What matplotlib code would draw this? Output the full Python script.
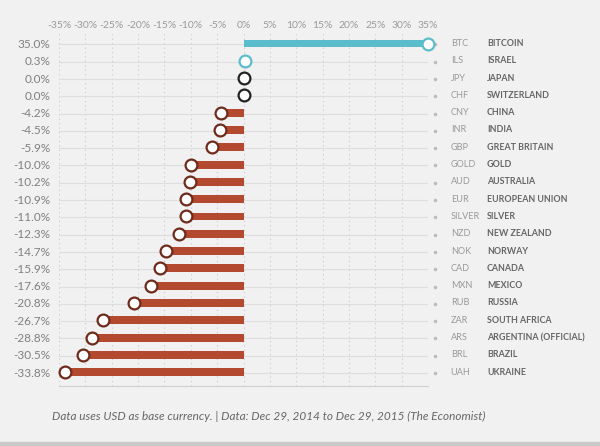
import matplotlib
matplotlib.use("Agg")
import matplotlib.pyplot as plt

# data: change vs USD, Dec 29 2014 -> Dec 29 2015
codes = ["BTC", "ILS", "JPY", "CHF", "CNY", "INR", "GBP", "GOLD", "AUD", "EUR",
         "SILVER", "NZD", "NOK", "CAD", "MXN", "RUB", "ZAR", "ARS", "BRL", "UAH"]
names = ["BITCOIN", "ISRAEL", "JAPAN", "SWITZERLAND", "CHINA", "INDIA", "GREAT BRITAIN",
         "GOLD", "AUSTRALIA", "EUROPEAN UNION", "SILVER", "NEW ZEALAND", "NORWAY",
         "CANADA", "MEXICO", "RUSSIA", "SOUTH AFRICA", "ARGENTINA (OFFICIAL)", "BRAZIL", "UKRAINE"]
changes = [35.0, 0.3, 0.0, 0.0, -4.2, -4.5, -5.9, -10.0, -10.2, -10.9,
           -11.0, -12.3, -14.7, -15.9, -17.6, -20.8, -26.7, -28.8, -30.5, -33.8]
ticks = [-35, -30, -25, -20, -15, -10, -5, 0, 5, 10, 15, 20, 25, 30, 35]

bg = "#f1f1f1"
red = "#b34a30"
teal = "#5bbdcb"
grey = "#9a9a9a"

fig = plt.figure(figsize=(6, 4.46), dpi=100, facecolor=bg)
ax = fig.add_axes([59/600, 1-386/446, 369/600, 352/446])
ax.set_facecolor(bg)

n = len(codes)
ys = list(range(n))

# grid
for t in ticks:
    ax.axvline(t, color="#c8c8c8", lw=0.8, ls=(0, (1, 3)), zorder=0)
for y in ys:
    ax.axhline(y + 0.05, color="#dedede", lw=0.8, zorder=0.5)
    ax.plot([36.3], [y + 0.05], marker="o", ms=1.5, color="#bbbbbb", clip_on=False)

for y, v in zip(ys, changes):
    if v > 1:
        col, edge = teal, teal
    elif v > 0:
        col, edge = None, teal
    elif v == 0:
        col, edge = None, "#222222"
    else:
        col, edge = red, "#6e2a1a"
    if col:
        ax.barh(y, v, height=0.46, color=col, zorder=2)
    ax.plot([v], [y], marker="o", ms=8.5, mfc="white", mec=edge, mew=1.6, zorder=3, clip_on=False)

ax.set_xlim(-35, 35)
ax.set_ylim(n - 0.2, -0.55)

ax.xaxis.tick_top()
ax.set_xticks(ticks)
ax.set_xticklabels([f"{t}%" for t in ticks], color=grey, fontsize=7.5, family="Lato")
ax.tick_params(axis="x", length=0, pad=3)

ax.set_yticks(ys)
ax.set_yticklabels([f"{v:.1f}%" for v in changes], color="#808080", fontsize=8.5, family="Lato")
ax.tick_params(axis="y", length=0, pad=6)

for s in ["top", "left", "right"]:
    ax.spines[s].set_visible(False)
ax.spines["bottom"].set_color("#d0d0d0")

for y, c, nm in zip(ys, codes, names):
    ax.text(39.3, y, c, color="#999999", fontsize=6.6, family="Lato", va="center", ha="left")
    ax.text(46.2, y, nm, color="#666666", fontsize=6.4, family="Lato", fontweight="bold",
            va="center", ha="left")

fig.text(0.448, 1-416/446, "Data uses USD as base currency. | Data: Dec 29, 2014 to Dec 29, 2015 (The Economist)",
         ha="center", va="center", color="#666666", fontsize=8.5, family="Lato", style="italic")

# bottom strip
fig.patches.append(plt.Rectangle((0, 0), 1, 4/446, transform=fig.transFigure,
                                 color="#c9c9c9", zorder=0))

fig.savefig("out.png", dpi=100, facecolor=bg)
